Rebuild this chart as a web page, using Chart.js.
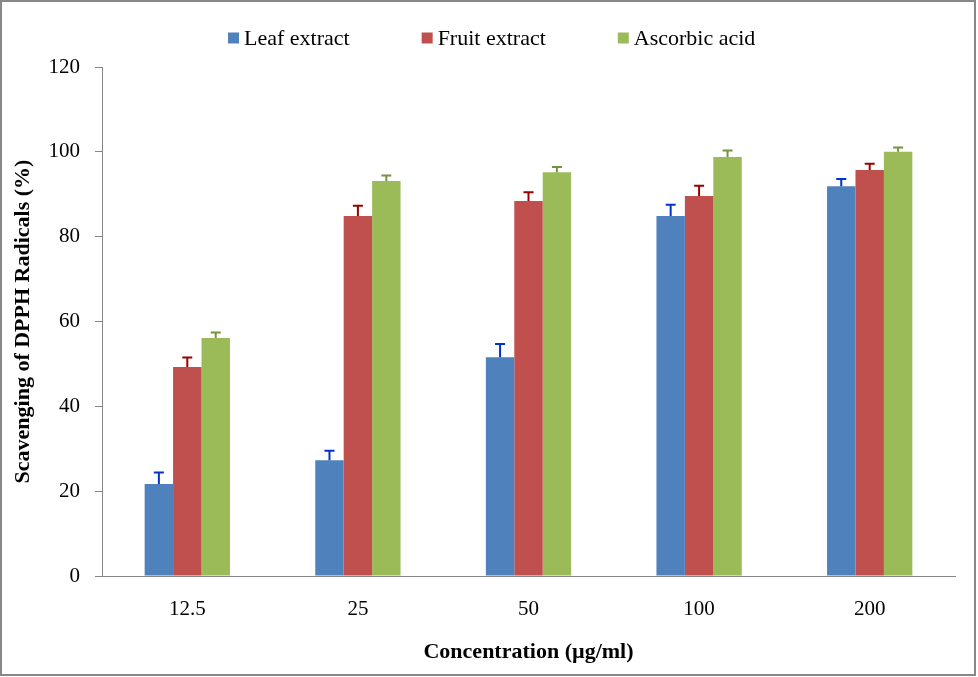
<!DOCTYPE html>
<html>
<head>
<meta charset="utf-8">
<script src="https://cdn.jsdelivr.net/npm/chart.js@4.4.1/dist/chart.umd.min.js"></script>
<style>
  html, body { margin: 0; padding: 0; background: #fff; }
  canvas { display: block; }
</style>
</head>
<body>
<canvas id="dpph" width="978" height="677"></canvas>
<script>
const concentrations = ['12.5', '25', '50', '100', '200'];
const leafExtract = [21.7, 27.3, 51.6, 84.9, 91.9];
const fruitExtract = [49.3, 84.9, 88.4, 89.6, 95.7];
const ascorbicAcid = [56.1, 93.1, 95.2, 98.8, 100.0];
const leafErr = [2.7, 2.2, 3.1, 2.6, 1.7];
const fruitErr = [2.2, 2.4, 2.1, 2.4, 1.5];
const ascorbicErr = [1.3, 1.3, 1.2, 1.5, 1.0];

const serif = 'Liberation Serif, Times New Roman, serif';

// White background + grey frame round the picture
const framePlugin = {
    id: 'frame',
    beforeDraw(chart) {
        const ctx = chart.ctx;
        ctx.save();
        ctx.fillStyle = '#fff';
        ctx.fillRect(0, 0, chart.width, chart.height);
        ctx.strokeStyle = '#888';
        ctx.lineWidth = 2;
        ctx.strokeRect(1, 1, chart.width - 4, chart.height - 3);
        ctx.restore();
    }
};

// Upper error bars drawn through the y scale
const errorBarPlugin = {
    id: 'errorBars',
    afterDatasetsDraw(chart) {
        const ctx = chart.ctx;
        const yScale = chart.scales.y;
        chart.data.datasets.forEach((ds, i) => {
            const meta = chart.getDatasetMeta(i);
            ctx.save();
            ctx.strokeStyle = ds.errorColor;
            ctx.lineWidth = 2;
            meta.data.forEach((bar, j) => {
                const top = yScale.getPixelForValue(ds.data[j] + ds.errors[j]);
                ctx.beginPath();
                ctx.moveTo(bar.x, bar.y);
                ctx.lineTo(bar.x, top);
                ctx.moveTo(bar.x - 5, top);
                ctx.lineTo(bar.x + 5, top);
                ctx.stroke();
            });
            ctx.restore();
        });
    }
};

// Legend across the top with wide spacing
const topLegendPlugin = {
    id: 'topLegend',
    afterDraw(chart) {
        const ctx = chart.ctx;
        const box = 11, gap = 5, spacing = 72, cy = 38;
        ctx.save();
        ctx.font = '22px ' + serif;
        ctx.textBaseline = 'middle';
        const items = chart.data.datasets.map(ds => ({
            text: ds.label, color: ds.backgroundColor, w: ctx.measureText(ds.label).width
        }));
        let x = 228;
        items.forEach(it => {
            ctx.fillStyle = it.color;
            ctx.fillRect(x, cy - box / 2, box, box);
            ctx.fillStyle = '#000';
            ctx.fillText(it.text, x + box + gap, cy + 1);
            x += box + gap + it.w + spacing;
        });
        ctx.restore();
    }
};

const ctx = document.getElementById('dpph').getContext('2d');
const dpphChart = new Chart(ctx, {
    type: 'bar',
    data: {
        labels: concentrations,
        datasets: [
            {
                label: 'Leaf extract',
                data: leafExtract,
                errors: leafErr,
                backgroundColor: '#4F81BD',
                errorColor: '#0033CC'
            },
            {
                label: 'Fruit extract',
                data: fruitExtract,
                errors: fruitErr,
                backgroundColor: '#C0504D',
                errorColor: '#990000'
            },
            {
                label: 'Ascorbic acid',
                data: ascorbicAcid,
                errors: ascorbicErr,
                backgroundColor: '#9BBB59',
                errorColor: '#77933C'
            }
        ]
    },
    options: {
        responsive: false,
        animation: false,
        devicePixelRatio: 1,
        categoryPercentage: 0.5,
        barPercentage: 1.0,
        layout: {
            padding: { left: 0, right: 23, top: 67, bottom: 0 }
        },
        plugins: {
            legend: { display: false },
            tooltip: { enabled: false }
        },
        scales: {
            x: {
                grid: { display: true, drawOnChartArea: false, drawTicks: false },
                border: { display: true, color: '#868686', width: 1 },
                ticks: {
                    color: '#000',
                    padding: 21,
                    font: { family: serif, size: 21 }
                },
                title: {
                    display: true,
                    text: 'Concentration (µg/ml)',
                    color: '#000',
                    padding: { top: 0, bottom: 11 },
                    font: { family: serif, size: 22, weight: 'bold' }
                },
                afterFit(scale) { scale.height = 101; }
            },
            y: {
                min: 0,
                max: 120,
                grid: { display: true, drawOnChartArea: false, drawTicks: true, tickLength: 7, color: '#868686' },
                border: { display: true, color: '#868686', width: 1 },
                ticks: {
                    stepSize: 20,
                    color: '#000',
                    padding: 15,
                    font: { family: serif, size: 21 }
                },
                title: {
                    display: true,
                    text: 'Scavenging of DPPH Radicals (%)',
                    color: '#000',
                    padding: { top: 10, bottom: 0 },
                    font: { family: serif, size: 22, weight: 'bold' }
                },
                afterFit(scale) { scale.width = 102; }
            }
        }
    },
    plugins: [framePlugin, errorBarPlugin, topLegendPlugin]
});
</script>
</body>
</html>
